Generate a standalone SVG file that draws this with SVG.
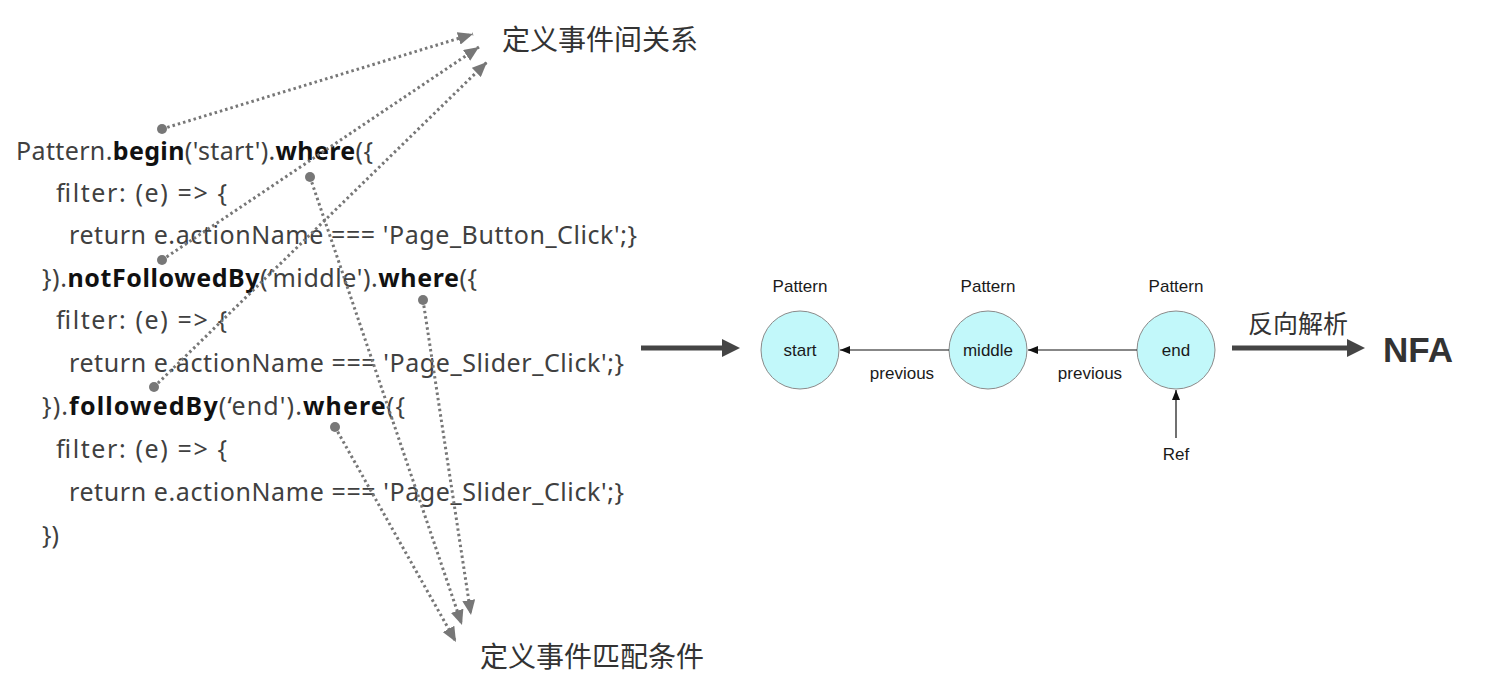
<svg xmlns="http://www.w3.org/2000/svg" width="1492" height="687" viewBox="0 0 1492 687">
<style>
.code{font-family:"Noto Sans","Open Sans","Liberation Sans",sans-serif;font-size:25px;fill:#404040}
.b{font-weight:bold;fill:#111}
.cjk{font-family:"Noto Sans CJK SC","Noto Sans",sans-serif;fill:#333}
.lbl{font-family:"Liberation Sans",Arial,sans-serif;font-size:17px;fill:#1a1a1a;text-anchor:middle}
.dot{stroke:#777;stroke-width:3;stroke-dasharray:2.5 3;fill:none}
.pt{fill:#777}
.node{fill:#c2f8fa;stroke:#8a8a8a;stroke-width:1}
.thin{stroke:#111;stroke-width:1.2;fill:none}
.thick{stroke:#454545;stroke-width:5;fill:none}
</style>
<defs>
<marker id="ga" viewBox="0 0 15 13" refX="15" refY="6.5" markerWidth="15" markerHeight="13" orient="auto" markerUnits="userSpaceOnUse"><path d="M0,0 L15,6.5 L0,13 z" fill="#777"/></marker>
<marker id="ba" viewBox="0 0 10 8" refX="10" refY="4" markerWidth="10" markerHeight="8" orient="auto" markerUnits="userSpaceOnUse"><path d="M0,0 L10,4 L0,8 z" fill="#111"/></marker>
</defs>
<rect width="1492" height="687" fill="#fff"/>
<g id="code">
<text class="code" x="16" y="160" textLength="357">Pattern.<tspan class="b">begin</tspan>('start').<tspan class="b">where</tspan>({</text>
<text class="code" x="56" y="202" textLength="171">filter: (e) =&gt; {</text>
<text class="code" x="69" y="244" textLength="568">return e.actionName === 'Page_Button_Click';}</text>
<text class="code" x="42" y="287" textLength="435">}).<tspan class="b">notFollowedBy</tspan>(‘middle').<tspan class="b">where</tspan>({</text>
<text class="code" x="56" y="329" textLength="171">filter: (e) =&gt; {</text>
<text class="code" x="69" y="372" textLength="555">return e.actionName === 'Page_Slider_Click';}</text>
<text class="code" x="42" y="415" textLength="363">}).<tspan class="b">followedBy</tspan>(‘end').<tspan class="b">where</tspan>({</text>
<text class="code" x="56" y="458" textLength="171">filter: (e) =&gt; {</text>
<text class="code" x="69" y="501" textLength="555">return e.actionName === 'Page_Slider_Click';}</text>
<text class="code" x="42" y="544">})</text>
</g>
<g id="label-relation"><text class="cjk" x="502" y="50" font-size="28">定义事件间关系</text></g>
<g id="label-condition"><text class="cjk" x="480" y="667" font-size="28">定义事件匹配条件</text></g>
<g id="annotation-connectors">
<line class="dot" x1="162" y1="129" x2="473" y2="34" marker-end="url(#ga)"/>
<line class="dot" x1="162" y1="260" x2="479" y2="47" marker-end="url(#ga)"/>
<line class="dot" x1="154" y1="387" x2="487" y2="62" marker-end="url(#ga)"/>
<line class="dot" x1="310" y1="177" x2="462" y2="625" marker-end="url(#ga)"/>
<line class="dot" x1="423" y1="300" x2="471" y2="615" marker-end="url(#ga)"/>
<line class="dot" x1="335" y1="427" x2="456" y2="642" marker-end="url(#ga)"/>
<circle class="pt" cx="162" cy="129" r="5"/>
<circle class="pt" cx="162" cy="260" r="5"/>
<circle class="pt" cx="154" cy="387" r="5"/>
<circle class="pt" cx="310" cy="177" r="5"/>
<circle class="pt" cx="423" cy="300" r="5"/>
<circle class="pt" cx="335" cy="427" r="5"/>
</g>
<g id="node-start">
<text class="lbl" x="800" y="292">Pattern</text>
<circle class="node" cx="800" cy="350" r="39"/>
<text class="lbl" x="800" y="356">start</text>
</g>
<g id="node-middle">
<text class="lbl" x="988" y="292">Pattern</text>
<circle class="node" cx="988" cy="350" r="39"/>
<text class="lbl" x="988" y="356">middle</text>
</g>
<g id="node-end">
<text class="lbl" x="1176" y="292">Pattern</text>
<circle class="node" cx="1176" cy="350" r="39"/>
<text class="lbl" x="1176" y="356">end</text>
</g>
<g id="node-ref"><text class="lbl" x="1176" y="460">Ref</text></g>
<g id="node-nfa"><text x="1383" y="362" font-family="Liberation Sans,Arial,sans-serif" font-weight="bold" font-size="35" fill="#333">NFA</text></g>
<g id="connectors">
<line class="thick" x1="641" y1="348" x2="724" y2="348"/>
<path d="M722,339 L740,348 L722,357 z" fill="#454545"/>
<line class="thin" x1="949" y1="350" x2="840" y2="350" marker-end="url(#ba)"/>
<text class="lbl" x="902" y="379">previous</text>
<line class="thin" x1="1137" y1="350" x2="1028" y2="350" marker-end="url(#ba)"/>
<text class="lbl" x="1090" y="379">previous</text>
<line class="thin" x1="1176" y1="438" x2="1176" y2="390" marker-end="url(#ba)"/>
<line class="thick" x1="1232" y1="348" x2="1349" y2="348"/>
<path d="M1347,339 L1365,348 L1347,357 z" fill="#454545"/>
<text class="cjk" x="1248" y="333" font-size="25">反向解析</text>
</g>
</svg>
